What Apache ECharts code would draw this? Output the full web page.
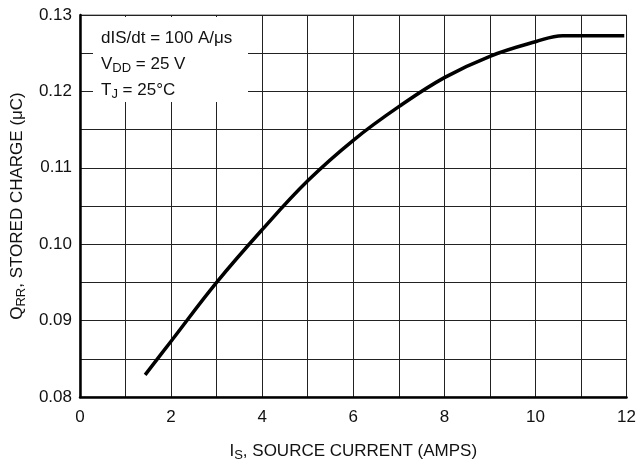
<!DOCTYPE html>
<html><head><meta charset="utf-8">
<script src="https://cdn.jsdelivr.net/npm/echarts@6/dist/echarts.min.js"></script>
<style>html,body{margin:0;padding:0;background:#fff}#c{width:639px;height:467px}</style>
</head><body><div id="c"></div>
<script>
var sourceCurrent = [1.43, 2, 3, 4, 5, 6, 7, 8, 9, 10, 10.6, 11.95];
var storedCharge = [0.0829, 0.0873, 0.0950, 0.1019, 0.1083, 0.1136, 0.1180, 0.1218, 0.1246, 0.1265, 0.1273, 0.1273];
var xTicks = [0, 2, 4, 6, 8, 10, 12];
var yTicks = ['0.08', '0.09', '0.10', '0.11', '0.12', '0.13'];
var FONT = '"Liberation Sans", Arial, sans-serif';

var chart = echarts.init(document.getElementById('c'));
chart.setOption({
  animation: false,
  grid: {left: 80, right: 12, top: 15, bottom: 68, show: true, borderColor: '#666', borderWidth: 1, backgroundColor: '#fff'},
  xAxis: {
    type: 'value', min: 0, max: 12, interval: 1,
    axisLine: {show: true, onZero: false, lineStyle: {color: '#000', width: 2.5}},
    axisTick: {show: false},
    splitLine: {show: true, lineStyle: {color: '#222', width: 1}},
    axisLabel: {color: '#111', fontFamily: FONT, fontSize: 17, margin: 12,
      formatter: function(v){ return xTicks.indexOf(v) >= 0 ? String(v) : ''; }},
    name: '{m|I}{s|S}{m|, SOURCE CURRENT (AMPS)}',
    nameLocation: 'middle', nameGap: 44,
    nameTextStyle: {rich: {m: {fontFamily: FONT, fontSize: 17, color: '#111'}, s: {fontFamily: FONT, fontSize: 13, color: '#111', padding: [8,0,0,0]}}}
  },
  yAxis: {
    type: 'value', min: 0.08, max: 0.13, interval: 0.005,
    axisLine: {show: true, onZero: false, lineStyle: {color: '#000', width: 2.5}},
    axisTick: {show: false},
    splitLine: {show: true, lineStyle: {color: '#222', width: 1}},
    axisLabel: {color: '#111', fontFamily: FONT, fontSize: 17, margin: 8,
      formatter: function(v){ var s = v.toFixed(2); return (Math.round(v*1000) % 10 === 0 && yTicks.indexOf(s) >= 0) ? s : ''; }},
    name: '{m|Q}{s|RR}{m|, STORED CHARGE (μC)}',
    nameLocation: 'middle', nameGap: 52, nameRotate: 90,
    nameTextStyle: {rich: {m: {fontFamily: FONT, fontSize: 17, color: '#111'}, s: {fontFamily: FONT, fontSize: 13, color: '#111', padding: [8,0,0,0]}}}
  },
  series: [{
    type: 'line', data: sourceCurrent.map(function(x, i){ return [x, storedCharge[i]]; }),
    smooth: 0.4, showSymbol: false, z: 5,
    lineStyle: {color: '#000', width: 3.5}
  }],
  graphic: [
    {type: 'rect', shape: {x: 93, y: 17, width: 155, height: 85}, style: {fill: '#fff'}, z: 3},
    {type: 'text', left: 101, top: 30, z: 4, style: {text: 'dIS/dt = 100 A/μs', fontFamily: FONT, fontSize: 17, fill: '#111'}},
    {type: 'text', left: 101, top: 56, z: 4, style: {text: '{m|V}{s|DD}{m| = 25 V}', rich: {m: {fontFamily: FONT, fontSize: 17, fill: '#111'}, s: {fontFamily: FONT, fontSize: 13, fill: '#111', padding: [8,0,0,0]}}}},
    {type: 'text', left: 101, top: 82, z: 4, style: {text: '{m|T}{s|J}{m| = 25°C}', rich: {m: {fontFamily: FONT, fontSize: 17, fill: '#111'}, s: {fontFamily: FONT, fontSize: 13, fill: '#111', padding: [8,0,0,0]}}}}
  ]
});
</script></body></html>
